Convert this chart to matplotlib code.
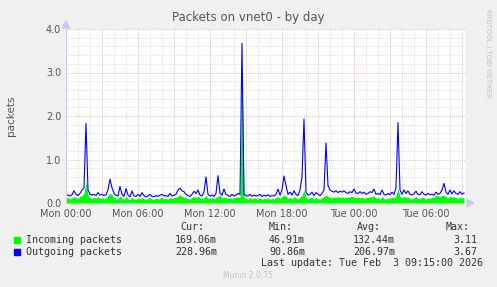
import matplotlib
matplotlib.use("Agg")
import matplotlib.pyplot as plt
from matplotlib.patches import Rectangle, Polygon
import numpy as np

# ---- data (10-minute samples starting Mon 00:00) ----
outgoing = [
    0.17, 0.18, 0.16, 0.19, 0.28, 0.20, 0.17, 0.22, 0.30, 0.35,
    1.83, 0.30, 0.20, 0.18, 0.20, 0.17, 0.24, 0.18, 0.20, 0.17,
    0.19, 0.30, 0.55, 0.35, 0.22, 0.18, 0.16, 0.38, 0.20, 0.15,
    0.33, 0.18, 0.14, 0.28, 0.16, 0.15, 0.20, 0.15, 0.24, 0.17,
    0.14, 0.16, 0.20, 0.15, 0.14, 0.17, 0.15, 0.18, 0.20, 0.16,
    0.17, 0.15, 0.22, 0.16, 0.18, 0.20, 0.30, 0.34, 0.28, 0.26,
    0.20, 0.17, 0.15, 0.20, 0.27, 0.22, 0.30, 0.18, 0.16, 0.25,
    0.60, 0.20, 0.16, 0.18, 0.15, 0.22, 0.63, 0.22, 0.18, 0.32,
    0.20, 0.17, 0.15, 0.20, 0.16, 0.18, 0.22, 0.20, 3.67, 0.20,
    0.17, 0.16, 0.20, 0.15, 0.18, 0.16, 0.17, 0.20, 0.15, 0.18,
    0.16, 0.19, 0.15, 0.17, 0.16, 0.20, 0.32, 0.18, 0.30, 0.62,
    0.40, 0.20, 0.25, 0.18, 0.28, 0.20, 0.17, 0.30, 0.60, 1.93,
    0.25, 0.18, 0.20, 0.25, 0.17, 0.24, 0.20, 0.17, 0.22, 0.30,
    1.38, 0.40, 0.30, 0.27, 0.25, 0.28, 0.24, 0.27, 0.25, 0.28,
    0.24, 0.22, 0.26, 0.24, 0.32, 0.23, 0.22, 0.26, 0.22, 0.25,
    0.20, 0.22, 0.26, 0.24, 0.32, 0.20, 0.22, 0.19, 0.30, 0.20,
    0.18, 0.22, 0.19, 0.25, 0.20, 0.35, 1.85, 0.30, 0.20, 0.30,
    0.22, 0.28, 0.20, 0.18, 0.22, 0.27, 0.20, 0.19, 0.26, 0.20,
    0.18, 0.22, 0.19, 0.20, 0.18, 0.25, 0.20, 0.22, 0.30, 0.45,
    0.25, 0.20, 0.30, 0.21, 0.28, 0.22, 0.20, 0.26, 0.20, 0.23,
]
incoming = [
    0.10, 0.13, 0.09, 0.12, 0.15, 0.12, 0.10, 0.16, 0.17, 0.22,
    0.50, 0.18, 0.12, 0.10, 0.14, 0.11, 0.16, 0.10, 0.13, 0.09,
    0.12, 0.17, 0.22, 0.19, 0.12, 0.10, 0.09, 0.17, 0.11, 0.08,
    0.15, 0.10, 0.08, 0.13, 0.09, 0.08, 0.12, 0.09, 0.13, 0.10,
    0.08, 0.11, 0.13, 0.09, 0.08, 0.12, 0.09, 0.11, 0.13, 0.09,
    0.11, 0.09, 0.13, 0.10, 0.12, 0.13, 0.16, 0.18, 0.15, 0.14,
    0.12, 0.10, 0.09, 0.13, 0.15, 0.12, 0.16, 0.11, 0.10, 0.13,
    0.17, 0.11, 0.10, 0.13, 0.09, 0.13, 0.15, 0.18, 0.11, 0.14,
    0.12, 0.10, 0.13, 0.09, 0.12, 0.13, 0.14, 0.12, 3.11, 0.13,
    0.10, 0.09, 0.13, 0.09, 0.12, 0.10, 0.09, 0.13, 0.08, 0.11,
    0.09, 0.12, 0.08, 0.11, 0.09, 0.13, 0.15, 0.10, 0.14, 0.19,
    0.15, 0.10, 0.13, 0.09, 0.15, 0.12, 0.09, 0.13, 0.17, 0.30,
    0.13, 0.09, 0.12, 0.14, 0.09, 0.13, 0.10, 0.09, 0.12, 0.15,
    0.18, 0.15, 0.13, 0.12, 0.14, 0.13, 0.15, 0.12, 0.14, 0.13,
    0.12, 0.13, 0.14, 0.16, 0.13, 0.12, 0.14, 0.12, 0.13, 0.10,
    0.12, 0.14, 0.13, 0.15, 0.17, 0.10, 0.12, 0.09, 0.15, 0.10,
    0.09, 0.12, 0.10, 0.14, 0.12, 0.16, 0.34, 0.15, 0.12, 0.15,
    0.13, 0.14, 0.10, 0.09, 0.12, 0.15, 0.10, 0.10, 0.14, 0.12,
    0.09, 0.12, 0.10, 0.13, 0.12, 0.19, 0.16, 0.15, 0.17, 0.18,
    0.14, 0.12, 0.16, 0.13, 0.15, 0.12, 0.10, 0.14, 0.12, 0.13,
]
sample_minutes = 10
x_tick_labels = ["Mon 00:00", "Mon 06:00", "Mon 12:00", "Mon 18:00", "Tue 00:00", "Tue 06:00"]
y_tick_labels = ["0.0", "1.0", "2.0", "3.0", "4.0"]
series_names = ["Incoming packets", "Outgoing packets"]
cur_vals = ["169.06m", "228.96m"]
min_vals = ["46.91m", "90.86m"]
avg_vals = ["132.44m", "206.97m"]
max_vals = ["3.11", "3.67"]

W, H = 497, 287
BG = "#F0F0F0"
GREEN = "#00FF00"
BLUE = "#0000FF"
TXT = "#555555"

def fx(px):
    return px / W

def fy(py):
    return 1 - py / H

fig = plt.figure(figsize=(W / 100, H / 100), dpi=100, facecolor=BG)
L, R, T, B = 66, 466, 29, 203
ax = fig.add_axes([fx(L), fy(B), (R - L) / W, (B - T) / H])
ax.set_facecolor("white")
xmax = (R - L) / 12.0
ax.set_xlim(0, xmax)
ax.set_ylim(0, 4)

hours = np.arange(len(outgoing)) * sample_minutes / 60.0

# grid
dot = (0, (1, 1.5))
for h in np.arange(1, xmax, 1):
    if h % 3 == 0:
        continue
    ax.axvline(h, color="#D0D0D0", lw=0.6, ls=dot, zorder=0)
for v in np.arange(0.2, 4.01, 0.2):
    if abs(v - round(v)) < 1e-6:
        continue
    ax.axhline(v, color="#D0D0D0", lw=0.6, ls=dot, zorder=0)
for h in np.arange(3, xmax, 3):
    ax.axvline(h, color="#E8A0A0", lw=0.6, ls=dot, zorder=0.5)
for v in [1, 2, 3, 4]:
    ax.axhline(v, color="#E8A0A0", lw=0.6, ls=dot, zorder=0.5)

ax.fill_between(hours, 0, incoming, color=GREEN, lw=0, zorder=2)
ax.plot(hours, outgoing, color=BLUE, lw=0.8, zorder=3)

for s in ax.spines.values():
    s.set_visible(False)
ax.axvline(0, color="#C8C8F0", lw=0.8, zorder=4)
ax.axhline(0, color="#C8C8F0", lw=0.8, zorder=4)
ax.axvline(xmax, color="#A0A0A0", lw=0.8, zorder=4)

ax.set_xticks(np.arange(0, 31, 6))
ax.set_xticklabels(x_tick_labels)
ax.set_yticks([0, 1, 2, 3, 4])
ax.set_yticklabels(y_tick_labels)
ax.tick_params(length=0, labelsize=7, colors=TXT, pad=3.5)
ax.tick_params(axis="x", pad=4)

# arrows
fig.patches.append(Polygon([[fx(L - 3.5), fy(T - 1)], [fx(L + 3.5), fy(T - 1)], [fx(L), fy(T - 8)]],
                           closed=True, transform=fig.transFigure, color="#C8C8F0", zorder=5))
fig.patches.append(Polygon([[fx(R + 1), fy(B - 3.5)], [fx(R + 1), fy(B + 3.5)], [fx(R + 8), fy(B)]],
                           closed=True, transform=fig.transFigure, color="#C8C8F0", zorder=5))

fig.text(fx(248), fy(18), "Packets on vnet0 - by day", ha="center", va="center",
         fontsize=8.5, color="#555555")
fig.text(fx(11), fy(116), "packets", rotation=90, ha="center", va="center",
         fontsize=7.5, color=TXT)
fig.text(fx(488), fy(53), "RRDTOOL / TOBI OETIKER", rotation=-90, ha="center", va="center",
         fontsize=5, color="#C0C0C0")

mono = dict(family="DejaVu Sans Mono", fontsize=7.2, color="#333333", va="center")
fig.text(fx(204), fy(227), "Cur:", ha="right", **mono)
fig.text(fx(293), fy(227), "Min:", ha="right", **mono)
fig.text(fx(381), fy(227), "Avg:", ha="right", **mono)
fig.text(fx(470), fy(227), "Max:", ha="right", **mono)
rows_y = [240, 252]
colors = [GREEN, BLUE]
for i in range(2):
    y = rows_y[i]
    fig.patches.append(Rectangle((fx(14), fy(y + 3)), 6 / W, 6 / H, transform=fig.transFigure,
                                 color=colors[i], zorder=5))
    fig.text(fx(26), fy(y), series_names[i], ha="left", **mono)
    fig.text(fx(217), fy(y), cur_vals[i], ha="right", **mono)
    fig.text(fx(305), fy(y), min_vals[i], ha="right", **mono)
    fig.text(fx(395), fy(y), avg_vals[i], ha="right", **mono)
    fig.text(fx(477), fy(y), max_vals[i], ha="right", **mono)
fig.text(fx(483), fy(263), "Last update: Tue Feb  3 09:15:00 2026", ha="right", **mono)
fig.text(fx(248), fy(276), "Munin 2.0.75", ha="center", va="center", fontsize=5.5, color="#C4C4C4")

fig.savefig("out.png", dpi=100, facecolor=BG)
